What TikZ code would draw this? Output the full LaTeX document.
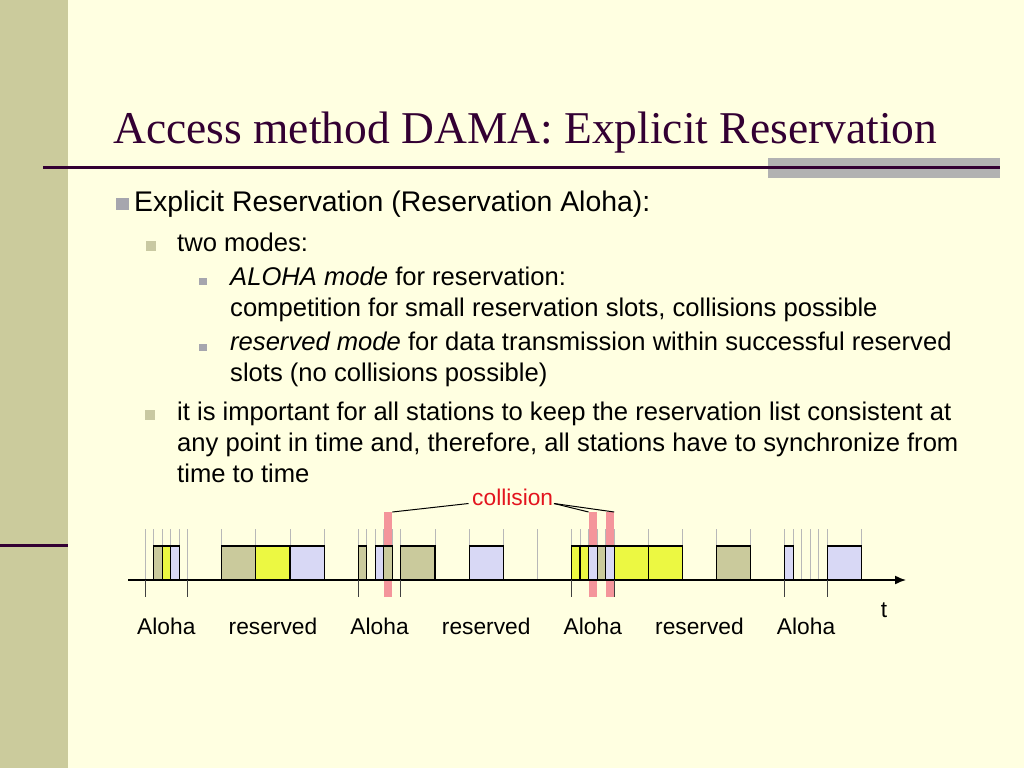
\documentclass[tikz,border=0pt]{standalone}
\usepackage{fontspec}
\setmainfont{Liberation Sans}
\newfontfamily\titlefont{Liberation Serif}
\usetikzlibrary{arrows.meta}
\definecolor{bg}{HTML}{FFFFE1}
\definecolor{stripe}{HTML}{CBCB9C}
\definecolor{titlec}{HTML}{330033}
\definecolor{bargray}{HTML}{B2B2B2}
\definecolor{olivebox}{HTML}{CACA9C}
\definecolor{yelbox}{HTML}{ECF842}
\definecolor{lavbox}{HTML}{D8D8F5}
\definecolor{redbar}{HTML}{F4959B}
\definecolor{colred}{HTML}{E3141E}
\definecolor{tickgray}{HTML}{B8B8B8}
\definecolor{bulgray}{HTML}{A6A6AE}
\definecolor{bulolive}{HTML}{C9C9A2}
\def\SW{8.53}
\def\XO{145}
\newcommand\aslotbox[3]{%
  \pgfmathsetmacro\xa{\XO+#1*25*\SW+#2*\SW}%
  \filldraw[slotbox,fill=#3] (\xa,546) rectangle ++(\SW,34);}
\newcommand\rslotbox[3]{%
  \pgfmathsetmacro\xa{\XO+#1*25*\SW+5*\SW+#2*4*\SW}%
  \filldraw[slotbox,fill=#3] (\xa,546) rectangle ++(4*\SW,34);}
\newcommand\redslot[2]{%
  \pgfmathsetmacro\xa{\XO+#1*25*\SW+#2*\SW}%
  \fill[redbar] (\xa,512) rectangle ++(\SW,85);}
\begin{document}
\begin{tikzpicture}[x=1pt,y=-1pt,
  slotbox/.style={draw=black,line width=1.1pt},
  gline/.style={draw=tickgray,line width=0.9pt},
  dtick/.style={draw=black!75,line width=1pt},
  txt/.style={anchor=base west,inner sep=0pt,font=\fontsize{25.6}{30}\selectfont},
  lab/.style={anchor=base,inner sep=0pt,font=\fontsize{22.75}{26}\selectfont}]
\fill[bg] (0,0) rectangle (1024,768);
\useasboundingbox (0,0) rectangle (1024,768);
% left stripe
\fill[stripe] (0,0) rectangle (68,768);
\draw[titlec,line width=3pt] (0,545) -- (68,545);
% title
\fill[bargray] (768,158.3) rectangle (1000,178.3);
\draw[titlec,line width=3pt] (43,167) -- (1000,167);
\node[anchor=base west,inner sep=0pt,text=titlec,font=\titlefont\fontsize{45.5}{50}\selectfont] (title) at (113,143.3) {Access method DAMA: Explicit Reservation};
% bullets
\fill[bulgray] (115.5,197.5) rectangle (128.5,210);
\node[txt,font=\fontsize{28.4}{32}\selectfont] (l1) at (134,211.5) {Explicit Reservation (Reservation Aloha):};
\fill[bulolive] (146,241) rectangle (156,251);
\node[txt] (l2a) at (177,251) {two modes:};
\fill[bulgray] (199.3,277.5) rectangle (206.7,284.5);
\node[txt] (l3a) at (230,285) {\textit{ALOHA mode} for reservation:};
\node[txt] (l3b) at (230,316) {competition for small reservation slots, collisions possible};
\fill[bulgray] (199.3,344) rectangle (206.7,351);
\node[txt] (l3c) at (230,350.5) {\textit{reserved mode} for data transmission within successful reserved};
\node[txt] (l3d) at (230,381.5) {slots (no collisions possible)};
\fill[bulolive] (145,410) rectangle (155,420);
\node[txt] (l2b) at (177,420.7) {it is important for all stations to keep the reservation list consistent at};
\node[txt] (l2c) at (177,451.7) {any point in time and, therefore, all stations have to synchronize from};
\node[txt] (l2d) at (177,482.7) {time to time};
% red collision bars
\redslot{1}{3}
\redslot{2}{2}
\redslot{2}{4}
% light grey slot lines
\foreach \k in {0,1,2,3}{
  \foreach \i in {0,...,5}{
    \pgfmathsetmacro\xa{\XO+\k*25*\SW+\i*\SW}
    \draw[gline] (\xa,529) -- (\xa,580);
  }}
\foreach \k in {0,1,2}{
  \foreach \j in {1,...,5}{
    \pgfmathsetmacro\xa{\XO+\k*25*\SW+5*\SW+\j*4*\SW}
    \draw[gline] (\xa,529) -- (\xa,580);
  }}
\pgfmathsetmacro\xa{\XO+3*25*\SW+5*\SW+4*\SW}
\draw[gline] (\xa,529) -- (\xa,580);
% slot boxes
\aslotbox{0}{1}{olivebox}\aslotbox{0}{2}{yelbox}\aslotbox{0}{3}{lavbox}
\rslotbox{0}{1}{olivebox}\rslotbox{0}{2}{yelbox}\rslotbox{0}{3}{lavbox}
\aslotbox{1}{0}{olivebox}\aslotbox{1}{2}{lavbox}\aslotbox{1}{3}{olivebox}
\rslotbox{1}{0}{olivebox}\rslotbox{1}{2}{lavbox}
\aslotbox{2}{0}{yelbox}\aslotbox{2}{1}{yelbox}\aslotbox{2}{2}{lavbox}\aslotbox{2}{3}{olivebox}\aslotbox{2}{4}{lavbox}
\rslotbox{2}{0}{yelbox}\rslotbox{2}{1}{yelbox}\rslotbox{2}{3}{olivebox}
\aslotbox{3}{0}{lavbox}
\rslotbox{3}{0}{lavbox}
% time axis
\coordinate (axs) at (128,580);
\coordinate (axe) at (906,580);
\draw[line width=1.5pt,-{Latex[length=11pt,width=9pt]}] (axs) -- (axe);
\foreach \k in {0,1,2,3}{
  \pgfmathsetmacro\xa{\XO+\k*25*\SW}
  \pgfmathsetmacro\xb{\XO+\k*25*\SW+5*\SW}
  \draw[dtick] (\xa,580) -- (\xa,597);
  \draw[dtick] (\xb,580) -- (\xb,597);
}
\node[lab] (t) at (884,617) {t};
% region labels
\foreach \k/\nm in {0/a0,1/a1,2/a2,3/a3}{
  \pgfmathsetmacro\xa{\XO+\k*25*\SW+2.5*\SW}
  \node[lab] (\nm) at (\xa,634) {Aloha};
}
\foreach \k/\nm in {0/r0,1/r1,2/r2}{
  \pgfmathsetmacro\xa{\XO+\k*25*\SW+15*\SW}
  \node[lab] (\nm) at (\xa,634) {reserved};
}
% collision label
\node[lab,text=colred] (col) at (512.7,505) {collision};
\coordinate (cl) at (468.5,503.5);
\coordinate (cr) at (554,503.5);
\coordinate (b1) at (392.4,512);
\coordinate (b2) at (588.6,512);
\coordinate (b3) at (614.2,512);
\draw[line width=1pt] (cl) -- (b1);
\draw[line width=1pt] (cr) -- (b2);
\draw[line width=1pt] (cr) -- (b3);
\end{tikzpicture}
\end{document}
